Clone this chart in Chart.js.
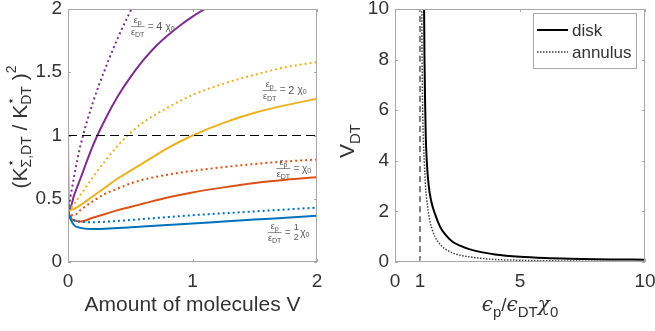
<!DOCTYPE html>
<html>
<head>
<meta charset="utf-8">
<script src="https://cdn.jsdelivr.net/npm/chart.js@4.4.1/dist/chart.umd.min.js"></script>
<style>
  body { margin: 0; background: #fff; width: 655px; height: 331px; overflow: hidden; position: relative; }
  #left { position: absolute; left: 0; top: 0; }
  #right { position: absolute; left: 330px; top: 0; }
</style>
</head>
<body>
<canvas id="left" width="330" height="331"></canvas>
<canvas id="right" width="325" height="331"></canvas>
<script>
// left panel: (K*_sigma,DT / K*_DT)^2 vs amount of molecules V
const leftV = [0, 0.02, 0.05, 0.1, 0.2, 0.3, 0.4, 0.5, 0.6, 0.8, 1.0, 1.25, 1.5, 1.75, 2.0];
const blueSolid   = [0.4, 0.34, 0.29, 0.27, 0.26, 0.262, 0.268, 0.274, 0.28, 0.292, 0.305, 0.32, 0.335, 0.35, 0.365];
const blueDot     = [0.4, 0.36, 0.33, 0.318, 0.315, 0.318, 0.325, 0.332, 0.34, 0.355, 0.37, 0.385, 0.4, 0.415, 0.43];
const redSolid    = [0.4, 0.35, 0.33, 0.32, 0.35, 0.38, 0.41, 0.435, 0.46, 0.51, 0.55, 0.59, 0.625, 0.65, 0.67];
const redDot      = [0.4, 0.37, 0.37, 0.41, 0.48, 0.54, 0.58, 0.62, 0.65, 0.69, 0.72, 0.75, 0.775, 0.795, 0.81];
const yellowSolid = [0.4, 0.41, 0.42, 0.45, 0.52, 0.59, 0.66, 0.72, 0.78, 0.9, 1.0, 1.1, 1.18, 1.24, 1.29];
const yellowDot   = [0.4, 0.42, 0.46, 0.53, 0.67, 0.8, 0.92, 1.02, 1.1, 1.22, 1.32, 1.41, 1.48, 1.54, 1.58];
const purpleSolidV = [0, 0.005, 0.05, 0.1, 0.2, 0.3, 0.4, 0.5, 0.6, 0.7, 0.8, 0.9, 1.0, 1.1];
const purpleSolid  = [1.0, 0.4, 0.53, 0.66, 0.92, 1.13, 1.31, 1.46, 1.59, 1.7, 1.79, 1.87, 1.94, 2.0];
const purpleDotV = [0, 0.05, 0.1, 0.2, 0.3, 0.4, 0.5, 0.55];
const purpleDot  = [0.4, 0.68, 0.92, 1.26, 1.53, 1.77, 1.98, 2.08];
const leftLimit = [1, 1];
const leftLimitV = [0, 2];
const leftXTicks = [0, 1, 2];
const leftYTicks = [0, 0.5, 1, 1.5, 2];

// right panel: V_DT vs eps_p / eps_DT chi_0
const diskX = [1.16, 1.18, 1.2, 1.23, 1.27, 1.35, 1.45, 1.6, 1.8, 2.0, 2.3, 2.6, 3, 3.5, 4, 5, 6, 7, 8, 9, 10];
const disk  = [10.5, 8, 6.5, 5, 4, 3, 2.4, 1.9, 1.4, 1.1, 0.8, 0.65, 0.5, 0.38, 0.3, 0.21, 0.16, 0.13, 0.11, 0.1, 0.09];
const annX  = [1.065, 1.08, 1.1, 1.13, 1.17, 1.22, 1.3, 1.4, 1.5, 1.6, 1.8, 2.0, 2.35, 2.7, 3, 4, 5, 6, 8, 10];
const annulus = [10.5, 8.5, 6.5, 5, 4, 3, 2.2, 1.6, 1.25, 1.0, 0.7, 0.52, 0.34, 0.25, 0.2, 0.1, 0.07, 0.05, 0.03, 0.02];
const critX = [1, 1];
const critY = [0, 10];
const rightXTicks = [0, 1, 5, 10];
const rightYTicks = [0, 2, 4, 6, 8, 10];

const BLUE = '#0072BD', RED = '#D95319', YELLOW = '#EDB120', PURPLE = '#7E2F8E';
const FONT = "'Liberation Sans', Arial, sans-serif";
const TXT = '#333333';

function pts(xs, ys) {
  return xs.map((x, i) => ({ x: x, y: ys[i] }));
}

function line(xs, ys, color, dotted, width) {
  return {
    data: pts(xs, ys),
    borderColor: color,
    borderWidth: width || 2,
    borderDash: dotted ? [2, 3] : [],
    cubicInterpolationMode: 'monotone',
    pointRadius: 0,
    fill: false,
    clip: 0
  };
}

// rich text: runs of {t, size, dy, fam, stack}
function fontOf(r) {
  return (r.italic ? 'italic ' : '') + r.size + 'px ' + (r.fam || FONT);
}
function layoutRuns(ctx, runs) {
  let x = 0, prevStart = 0, prevW = 0;
  const items = [];
  runs.forEach(r => {
    ctx.font = fontOf(r);
    const w = ctx.measureText(r.t).width;
    let start = x;
    if (r.stack) {
      start = prevStart;
      x = prevStart + Math.max(prevW, w);
    } else {
      x = start + w;
    }
    items.push({ r: r, x: start });
    prevStart = start;
    prevW = w;
  });
  return { items: items, width: x };
}
function drawRich(ctx, runs, x, y, align, rotate, color) {
  ctx.save();
  ctx.translate(x, y);
  if (rotate) ctx.rotate(-Math.PI / 2);
  const lay = layoutRuns(ctx, runs);
  const x0 = align === 'left' ? 0 : -lay.width / 2;
  ctx.fillStyle = color || TXT;
  ctx.textBaseline = 'alphabetic';
  ctx.textAlign = 'left';
  lay.items.forEach(it => {
    ctx.font = fontOf(it.r);
    ctx.fillText(it.r.t, x0 + it.x, it.r.dy || 0);
  });
  ctx.restore();
  return lay.width;
}

function drawBox(chart) {
  const { ctx, chartArea: a, scales } = chart;
  ctx.save();
  ctx.strokeStyle = '#a8a8a8';
  ctx.lineWidth = 1;
  ctx.strokeRect(a.left + 0.5, a.top + 0.5, a.right - a.left - 1, a.bottom - a.top - 1);
  ctx.beginPath();
  scales.x.ticks.forEach(t => {
    const px = Math.round(scales.x.getPixelForValue(t.value)) + 0.5;
    ctx.moveTo(px, a.bottom); ctx.lineTo(px, a.bottom - 3);
    ctx.moveTo(px, a.top); ctx.lineTo(px, a.top + 3);
  });
  scales.y.ticks.forEach(t => {
    const py = Math.round(scales.y.getPixelForValue(t.value)) + 0.5;
    ctx.moveTo(a.left, py); ctx.lineTo(a.left + 3, py);
    ctx.moveTo(a.right, py); ctx.lineTo(a.right - 3, py);
  });
  ctx.stroke();
  ctx.restore();
}

// annotation "eps_p / eps_DT = k chi_0" centred on its fraction bar
function drawRatioLabel(ctx, cx, cy, k) {
  const grey = '#555555';
  const num = [{ t: 'ε', size: 9 }, { t: 'p', size: 7, dy: 2 }];
  const den = [{ t: 'ε', size: 9 }, { t: 'DT', size: 7, dy: 2 }];
  ctx.save();
  ctx.strokeStyle = '#777';
  ctx.lineWidth = 0.8;
  ctx.beginPath();
  ctx.moveTo(cx - 7, cy + 0.5); ctx.lineTo(cx + 7, cy + 0.5);
  ctx.stroke();
  ctx.restore();
  drawRich(ctx, num, cx, cy - 3, 'center', false, grey);
  drawRich(ctx, den, cx, cy + 9, 'center', false, grey);
  let x = cx + 10;
  x += drawRich(ctx, [{ t: '= ', size: 10 }], x, cy + 3.5, 'left', false, '#888');
  if (k === 'half') {
    drawRich(ctx, [{ t: '1', size: 9 }], x + 3, cy - 2, 'center', false, grey);
    drawRich(ctx, [{ t: '2', size: 9 }], x + 3, cy + 8, 'center', false, grey);
    x += 7;
  } else if (k) {
    x += drawRich(ctx, [{ t: k + ' ', size: 11 }], x, cy + 4, 'left', false, grey);
  }
  drawRich(ctx, [{ t: 'χ', size: 10 }, { t: '0', size: 7, dy: 1 }], x, cy + 3.5, 'left', false, grey);
}

const ratioLabels = [
  { x: 0.56, y: 1.865, k: '4' },
  { x: 1.62, y: 1.36, k: '2' },
  { x: 1.73, y: 0.743, k: '' },
  { x: 1.66, y: 0.237, k: 'half' }
];

const leftDeco = {
  id: 'leftDeco',
  afterDatasetsDraw(chart) {
    drawBox(chart);
  },
  afterDraw(chart) {
    const { ctx, chartArea: a, scales } = chart;
    ratioLabels.forEach(l => {
      drawRatioLabel(ctx, scales.x.getPixelForValue(l.x), scales.y.getPixelForValue(l.y), l.k);
    });
    drawRich(ctx, [{ t: 'Amount of molecules V', size: 21 }], (a.left + a.right) / 2, a.bottom + 49, 'center');
    drawRich(ctx, [
      { t: '(', size: 21 },
      { t: 'K', size: 21 },
      { t: '⋆', size: 13, dy: -12 },
      { t: 'Σ,DT', size: 14, dy: 4, stack: true },
      { t: ' / ', size: 21 },
      { t: 'K', size: 21 },
      { t: '⋆', size: 13, dy: -12 },
      { t: 'DT', size: 14, dy: 4, stack: true },
      { t: ' )', size: 21 },
      { t: '2', size: 14, dy: -11 }
    ], 27, 127, 'center', true);
  }
};

const rightDeco = {
  id: 'rightDeco',
  afterDatasetsDraw(chart) {
    drawBox(chart);
  },
  afterDraw(chart) {
    const { ctx, chartArea: a } = chart;
    // legend
    const lx = 203, ly = 13, lw = 103, lh = 55;
    ctx.save();
    ctx.fillStyle = '#fff';
    ctx.fillRect(lx, ly, lw, lh);
    ctx.strokeStyle = '#a8a8a8';
    ctx.lineWidth = 1;
    ctx.strokeRect(lx + 0.5, ly + 0.5, lw, lh);
    ctx.strokeStyle = '#000';
    ctx.lineWidth = 2;
    ctx.beginPath(); ctx.moveTo(lx + 4, ly + 17); ctx.lineTo(lx + 35, ly + 17); ctx.stroke();
    ctx.strokeStyle = '#333';
    ctx.lineWidth = 1.3;
    ctx.setLineDash([1.5, 1.5]);
    ctx.beginPath(); ctx.moveTo(lx + 4, ly + 39); ctx.lineTo(lx + 35, ly + 39); ctx.stroke();
    ctx.restore();
    drawRich(ctx, [{ t: 'disk', size: 17 }], lx + 39, ly + 23, 'left');
    drawRich(ctx, [{ t: 'annulus', size: 17 }], lx + 39, ly + 45, 'left');
    // axis titles
    drawRich(ctx, [
      { t: 'ϵ', size: 20, fam: "'DejaVu Serif', serif", italic: true },
      { t: 'p', size: 15, dy: 6 },
      { t: '/', size: 19 },
      { t: 'ϵ', size: 20, fam: "'DejaVu Serif', serif", italic: true },
      { t: 'DT', size: 15, dy: 6 },
      { t: 'χ', size: 20, fam: "'DejaVu Serif', serif", italic: true },
      { t: '0', size: 15, dy: 6 }
    ], 190, 311, 'center');
    drawRich(ctx, [
      { t: 'V', size: 21 },
      { t: 'DT', size: 15, dy: 6 }
    ], 24, 141, 'center', true);
  }
};

function axisOpts(min, max, tickVals, isX, size) {
  return {
    type: 'linear',
    min: min,
    max: max,
    grid: { display: false, drawTicks: false },
    border: { display: false },
    afterBuildTicks: s => { s.ticks = tickVals.map(v => ({ value: v })); },
    afterFit: s => {
      if (isX) s.height = size; else s.width = size;
      s.paddingTop = 0; s.paddingBottom = 0; s.paddingLeft = 0; s.paddingRight = 0;
    },
    ticks: {
      autoSkip: false,
      maxRotation: 0,
      padding: isX ? 8 : 6,
      color: TXT,
      font: { family: FONT, size: 19 },
      callback: v => String(v)
    }
  };
}

const baseOpts = {
  responsive: false,
  animation: false,
  plugins: { legend: { display: false }, tooltip: { enabled: false } },
  elements: { point: { radius: 0 } }
};

new Chart(document.getElementById('left'), {
  type: 'line',
  data: {
    datasets: [
      Object.assign(line(leftLimitV, leftLimit, '#000', false, 1), { borderDash: [9, 5] }),
      line(leftV, blueSolid, BLUE, false),
      line(leftV, blueDot, BLUE, true),
      line(leftV, redSolid, RED, false),
      line(leftV, redDot, RED, true),
      line(leftV, yellowSolid, YELLOW, false),
      line(leftV, yellowDot, YELLOW, true),
      line(purpleSolidV, purpleSolid, PURPLE, false),
      line(purpleDotV, purpleDot, PURPLE, true)
    ]
  },
  options: Object.assign({}, baseOpts, {
    layout: { padding: { left: 0, right: 13, top: 9, bottom: 0 } },
    scales: {
      x: axisOpts(0, 2, leftXTicks, true, 69),
      y: axisOpts(0, 2, leftYTicks, false, 68)
    }
  }),
  plugins: [leftDeco]
});

new Chart(document.getElementById('right'), {
  type: 'line',
  data: {
    datasets: [
      Object.assign(line(critX, critY, '#000', false, 1), { borderDash: [6, 4] }),
      Object.assign(line(annX, annulus, '#444', false, 1.5), { borderDash: [1.5, 1.5] }),
      line(diskX, disk, '#000', false, 2)
    ]
  },
  options: Object.assign({}, baseOpts, {
    layout: { padding: { left: 0, right: 10, top: 9, bottom: 0 } },
    scales: {
      x: axisOpts(0, 10, rightXTicks, true, 69),
      y: axisOpts(0, 10, rightYTicks, false, 65)
    }
  }),
  plugins: [rightDeco]
});
</script>
</body>
</html>
